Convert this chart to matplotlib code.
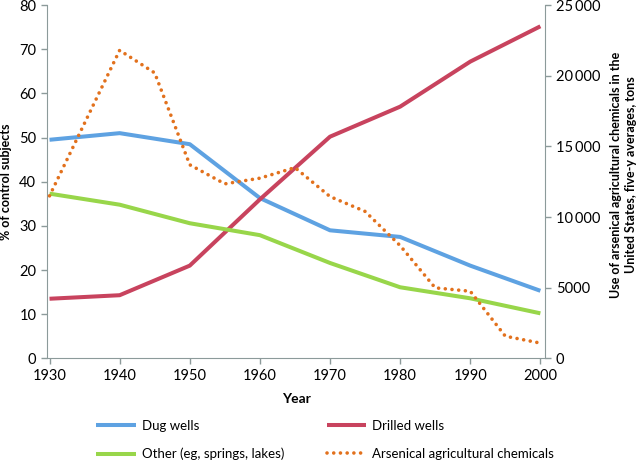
import matplotlib
matplotlib.use("Agg")
import matplotlib.pyplot as plt
from matplotlib.ticker import FuncFormatter

plt.rcParams['font.family'] = ['Lato', 'DejaVu Sans']

years = [1930, 1940, 1950, 1960, 1970, 1980, 1990, 2000]
dug_wells = [49.5, 51.0, 48.5, 36.3, 29.0, 27.5, 21.0, 15.3]
drilled_wells = [13.5, 14.3, 21.0, 36.0, 50.2, 57.0, 67.2, 75.2]
other = [37.3, 34.8, 30.6, 27.9, 21.6, 16.1, 13.6, 10.2]

chem_years = [1930, 1940, 1945, 1950, 1955, 1960, 1965, 1970, 1975, 1980, 1985, 1990, 1995, 2000]
arsenical = [11500, 21800, 20200, 13700, 12350, 12750, 13500, 11450, 10400, 7980, 4990, 4750, 1570, 1080]

left_ticks = list(range(0, 81, 10))
right_ticks = [0, 5000, 10000, 15000, 20000, 25000]

c_blue = '#5EA2E2'
c_red = '#C8435E'
c_green = '#98D64A'
c_orange = '#E2711D'
c_axis = '#8C9A9A'

fig = plt.figure(figsize=(6.4, 4.63), dpi=100)
ax = fig.add_axes([0.073, 0.226, 0.779, 0.763])
ax2 = ax.twinx()

l1, = ax.plot(years, dug_wells, color=c_blue, lw=2.9, solid_capstyle='butt', label='Dug wells')
l2, = ax.plot(years, drilled_wells, color=c_red, lw=2.9, solid_capstyle='butt', label='Drilled wells')
l3, = ax.plot(years, other, color=c_green, lw=2.9, solid_capstyle='butt', label='Other (eg, springs, lakes)')
l4, = ax2.plot(chem_years, arsenical, color=c_orange, lw=2.6, linestyle=(0, (0.01, 1.85)),
               dash_capstyle='round', label='Arsenical agricultural chemicals')

ax.set_xlim(1929.6, 2000.7)
ax.set_ylim(0, 80)
ax2.set_ylim(0, 25000)
ax.set_xticks(years)
ax.set_yticks(left_ticks)
ax2.set_yticks(right_ticks)

def fmt(v, pos):
    v = int(v)
    if v >= 10000:
        return f"{v:,}".replace(",", "\u2009")
    return str(v)

ax2.yaxis.set_major_formatter(FuncFormatter(fmt))

for a in (ax, ax2):
    a.set_facecolor('none')
    a.spines['top'].set_visible(False)
    for side in ('left', 'right', 'bottom'):
        a.spines[side].set_color(c_axis)
    a.tick_params(colors=c_axis, labelcolor='black', labelsize=10.5, length=4, width=1, direction='out')
ax.spines['right'].set_visible(False)
ax2.spines['left'].set_visible(False)
ax2.spines['bottom'].set_visible(False)

ax.set_ylabel('% of control subjects', fontsize=9, fontweight='bold')
ax.yaxis.set_label_coords(-0.07, 0.5)
ax.set_xlabel('Year', fontsize=10, fontweight='bold', labelpad=7)
fig.text(0.974, 0.622, 'Use of arsenical agricultural chemicals in the\nUnited States, five-y averages, tons',
         rotation=90, ha='center', va='center', multialignment='center',
         fontsize=9, fontweight='bold', linespacing=1.35)

fig.legend(handles=[l1, l3, l2, l4], ncol=2, frameon=False, fontsize=9.5,
           loc='upper left', bbox_to_anchor=(0.15, 0.093), borderaxespad=0, borderpad=0,
           handlelength=3.0, handletextpad=0.45, columnspacing=3.25, labelspacing=1.2)

fig.savefig('out.png', dpi=100)
